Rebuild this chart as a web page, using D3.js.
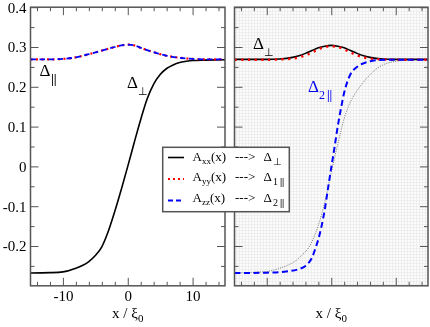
<!DOCTYPE html>
<html>
<head>
<meta charset="utf-8">
<script src="https://cdn.jsdelivr.net/npm/d3@7"></script>
<style>
body { margin: 0; background: #fff; }
svg { will-change: transform; }
text, .tick text { font-family: 'Liberation Serif', 'Times New Roman', serif; fill: #000; }
</style>
</head>
<body>
<svg class="chart"></svg>
<script>
const size = {w: 430, h: 327};

// tick values
const xTicks = [-10, 0, 10];
const xMinor = [-14, -12, -8, -6, -4, -2, 2, 4, 6, 8, 12, 14];
const yTicks = [0.4, 0.3, 0.2, 0.1, 0, -0.1, -0.2];
const yMinor = [0.35, 0.25, 0.15, 0.05, -0.05, -0.15, -0.25];

// left panel: Delta_perp, solid black
const perpLeftX = [-15, -12, -10, -8, -7, -6, -5, -4, -3, -2, -1, 0, 1, 2, 3, 4, 5, 6, 7, 8, 9, 10, 12, 15];
const perpLeftY = [-0.268, -0.267, -0.265, -0.256, -0.249, -0.239, -0.224, -0.202, -0.163, -0.113, -0.058, 0.0,
                   0.060, 0.118, 0.170, 0.207, 0.231, 0.246, 0.255, 0.261, 0.264, 0.266, 0.267, 0.268];

// left panel: Delta_par (Ayy and Azz give the same curve)
const parLeftX = [-15, -12, -10, -8, -6, -4, -2, -1, 0, 1, 2, 3, 4, 5, 6, 8, 10, 12, 15];
const parLeftY = [0.269, 0.269, 0.270, 0.274, 0.282, 0.291, 0.300, 0.304, 0.306, 0.304, 0.298, 0.292,
                  0.287, 0.282, 0.278, 0.273, 0.270, 0.269, 0.269];

// right panel: Axx -> Delta_perp
const perpRightX = [-15, -10, -8, -6, -5, -4, -3, -2, -1, 0, 1, 2, 3, 4, 5, 6, 8, 10, 15];
const perpRightY = [0.269, 0.269, 0.270, 0.274, 0.278, 0.284, 0.291, 0.298, 0.302, 0.304, 0.302, 0.298,
                    0.291, 0.284, 0.278, 0.274, 0.270, 0.269, 0.269];

// right panel: Ayy -> Delta_1par
const par1RightX = [-15, -10, -8, -6, -5, -4, -3, -2, -1, 0, 1, 2, 3, 4, 5, 6, 8, 10, 15];
const par1RightY = [0.268, 0.268, 0.269, 0.271, 0.274, 0.279, 0.286, 0.294, 0.300, 0.302, 0.300, 0.294,
                    0.286, 0.279, 0.274, 0.271, 0.269, 0.268, 0.268];

// right panel: Azz -> Delta_2par
const par2RightX = [-15, -10, -7, -5, -4, -3.5, -3, -2.5, -2, -1.5, -1, -0.5, 0, 0.5, 1, 1.5, 2, 2.5, 3, 4, 5, 6, 7, 10, 15];
const par2RightY = [-0.268, -0.267, -0.264, -0.258, -0.250, -0.242, -0.230, -0.208, -0.183, -0.150, -0.108, -0.055,
                    -0.003, 0.047, 0.100, 0.145, 0.185, 0.213, 0.232, 0.250, 0.259, 0.264, 0.267, 0.268, 0.268];

// right panel: thin grey reference curve
const refRightX = [-15, -12, -10, -8, -7, -5.5, -4.5, -3.5, -2, -1, 0, 1, 2, 3, 4, 5, 6, 7, 8, 10, 12, 15];
const refRightY = [-0.268, -0.266, -0.264, -0.256, -0.250, -0.237, -0.222, -0.204, -0.148, -0.090, -0.015, 0.055,
                   0.120, 0.163, 0.190, 0.212, 0.230, 0.245, 0.255, 0.264, 0.267, 0.268];

const svg = d3.select('svg.chart')
    .attr('width', size.w)
    .attr('height', size.h);

// background texture of the right panel
const pat = svg.append('defs').append('pattern')
    .attr('id', 'dots')
    .attr('width', 3).attr('height', 3)
    .attr('patternUnits', 'userSpaceOnUse');
pat.append('rect').attr('width', 3).attr('height', 3).attr('fill', '#eeeeee');
pat.append('rect').attr('width', 2).attr('height', 2).attr('fill', '#fcfcfc');

const y = d3.scaleLinear().domain([-0.3, 0.4]).range([285.8, 7.2]);
const xLeft = d3.scaleLinear().domain([-15, 15]).range([30.5, 225]);
const xRight = d3.scaleLinear().domain([-15, 15]).range([234.5, 428]);

const pairs = (xs, ys) => xs.map((d, i) => [d, ys[i]]);

function drawPanel(x, bg, labels) {
    const g = svg.append('g');
    const [x0, x1] = x.range();
    const [y0, y1] = y.range();

    g.append('rect')
        .attr('x', x0).attr('y', y1)
        .attr('width', x1 - x0).attr('height', y0 - y1)
        .attr('fill', bg);

    // bottom / top ticks, pointing inwards
    const bottom = g.append('g').attr('transform', `translate(0,${y0})`);
    bottom.call(d3.axisBottom(x).tickValues(xTicks).tickSizeInner(-8).tickSizeOuter(0).tickPadding(5)
        .tickFormat(d => labels ? d3.format('d')(d).replace('−', '-') : ''));
    bottom.append('g').call(d3.axisBottom(x).tickValues(xMinor).tickSize(-4).tickFormat(''));
    const top = g.append('g').attr('transform', `translate(0,${y1})`);
    top.call(d3.axisTop(x).tickValues(xTicks).tickSize(-8).tickFormat(''));
    top.append('g').call(d3.axisTop(x).tickValues(xMinor).tickSize(-4).tickFormat(''));

    // left / right ticks
    const left = g.append('g').attr('transform', `translate(${x0},0)`);
    left.call(d3.axisLeft(y).tickValues(yTicks).tickSizeInner(-8).tickSizeOuter(0).tickPadding(4)
        .tickFormat(d => labels ? (d === 0 ? '0' : d3.format('.1f')(d).replace('−', '-')) : ''));
    left.append('g').call(d3.axisLeft(y).tickValues(yMinor).tickSize(-4).tickFormat(''));
    const right = g.append('g').attr('transform', `translate(${x1},0)`);
    right.call(d3.axisRight(y).tickValues(yTicks).tickSize(-8).tickFormat(''));
    right.append('g').call(d3.axisRight(y).tickValues(yMinor).tickSize(-4).tickFormat(''));

    [bottom, top, left, right].forEach(a => {
        a.attr('font-family', null).attr('font-size', null);
        a.selectAll('g').attr('font-family', null).attr('font-size', null);
        a.selectAll('.domain').remove();
        a.selectAll('line').attr('stroke', '#555');
    });
    g.selectAll('.tick text')
        .attr('font-family', "'Liberation Serif', serif")
        .attr('font-size', 15)
        .attr('fill', '#000');

    // x axis title
    const t = g.append('text')
        .attr('x', (x0 + x1) / 2).attr('y', 318)
        .attr('text-anchor', 'middle')
        .style('font-size', '15px');
    t.append('tspan').text('x / ξ');
    t.append('tspan').attr('dy', 4).style('font-size', '11px').text('0');

    return g;
}

function drawLine(g, x, data, color, width, dash) {
    const line = d3.line()
        .x(d => x(d[0]))
        .y(d => y(d[1]))
        .curve(d3.curveMonotoneX);
    g.append('path')
        .datum(data)
        .attr('d', line)
        .attr('fill', 'none')
        .attr('stroke', color)
        .attr('stroke-width', width)
        .attr('stroke-dasharray', dash);
}

function frame(g, x) {
    const [x0, x1] = x.range();
    const [y0, y1] = y.range();
    g.append('rect')
        .attr('x', x0).attr('y', y1)
        .attr('width', x1 - x0).attr('height', y0 - y1)
        .attr('fill', 'none')
        .attr('stroke', '#555')
        .attr('stroke-width', 1.5);
}

// LEFT PANEL
const leftG = drawPanel(xLeft, '#fff', true);
drawLine(leftG, xLeft, pairs(perpLeftX, perpLeftY), '#000', 1.6, null);
drawLine(leftG, xLeft, pairs(parLeftX, parLeftY), '#ff0000', 2.2, '2,3.5');
drawLine(leftG, xLeft, pairs(parLeftX, parLeftY), '#0000ff', 1.8, '5.5,3.5');
frame(leftG, xLeft);

// RIGHT PANEL
const rightG = drawPanel(xRight, 'url(#dots)', false);
drawLine(rightG, xRight, pairs(refRightX, refRightY), '#777', 1, '1,1.3');
drawLine(rightG, xRight, pairs(perpRightX, perpRightY), '#000', 1.6, null);
drawLine(rightG, xRight, pairs(par1RightX, par1RightY), '#ff0000', 2.4, '2.2,4.5');
drawLine(rightG, xRight, pairs(par2RightX, par2RightY), '#0000ff', 2, '6,3.5');
frame(rightG, xRight);

// curve labels
function deltaLabel(xp, yp, subs, color) {
    const t = svg.append('text')
        .attr('x', xp).attr('y', yp)
        .style('fill', color)
        .style('font-size', '17px');
    t.append('tspan').text('Δ');
    subs.forEach((s, i) => {
        t.append('tspan')
            .attr('dy', i === 0 ? 7 : 0)
            .attr('dx', s.dx || 0)
            .style('font-size', s.size + 'px')
            .style('font-weight', s.text === '||' ? 'bold' : null)
            .text(s.text);
    });
}
deltaLabel(39.5, 76, [{text: '||', size: 13, dx: 0.5}], '#000');
deltaLabel(127, 88, [{text: '⊥', size: 11, dx: 0.5}], '#000');
deltaLabel(253, 48.5, [{text: '⊥', size: 11, dx: 0.5}], '#000');
deltaLabel(308, 91.5, [{text: '2', size: 12, dx: 0}, {text: '||', size: 12, dx: 2}], '#0000ee');

// LEGEND
const legendRows = [
    {a: 'xx', sub: ['⊥'], color: '#000', dash: null, width: 1.6},
    {a: 'yy', sub: ['1', '||'], color: '#ff0000', dash: '2,3', width: 2.2},
    {a: 'zz', sub: ['2', '||'], color: '#0000ff', dash: '5,3', width: 1.8}
];
const lineY = [157.5, 179, 200.5];
const textY = [161, 180.5, 202];

const legG = svg.append('g');
legG.append('rect')
    .attr('x', 162.7).attr('y', 147.3)
    .attr('width', 126.6).attr('height', 64.4)
    .attr('fill', '#fff')
    .attr('stroke', '#555')
    .attr('stroke-width', 1.5);

legendRows.forEach((r, i) => {
    legG.append('line')
        .attr('x1', 168).attr('x2', 184)
        .attr('y1', lineY[i]).attr('y2', lineY[i])
        .attr('stroke', r.color)
        .attr('stroke-width', r.width)
        .attr('stroke-dasharray', r.dash);

    const t = legG.append('text')
        .attr('x', 192.5).attr('y', textY[i])
        .style('font-size', '13px');
    t.append('tspan').text('A');
    t.append('tspan').attr('dy', 3).style('font-size', '9px').text(r.a);
    t.append('tspan').attr('dy', -3).text('(x)');

    legG.append('text')
        .attr('x', 235).attr('y', textY[i])
        .style('font-size', '13px')
        .text('--->');

    const d = legG.append('text')
        .attr('x', 263.5).attr('y', textY[i])
        .style('font-size', '13px');
    d.append('tspan').text('Δ');
    r.sub.forEach((s, j) => {
        d.append('tspan')
            .attr('dy', j === 0 ? 4 : 0)
            .attr('dx', j === 0 ? 1 : 2)
            .style('font-size', '10px')
            .style('font-weight', s === '||' ? 'bold' : null)
            .text(s);
    });
});
</script>
</body>
</html>
